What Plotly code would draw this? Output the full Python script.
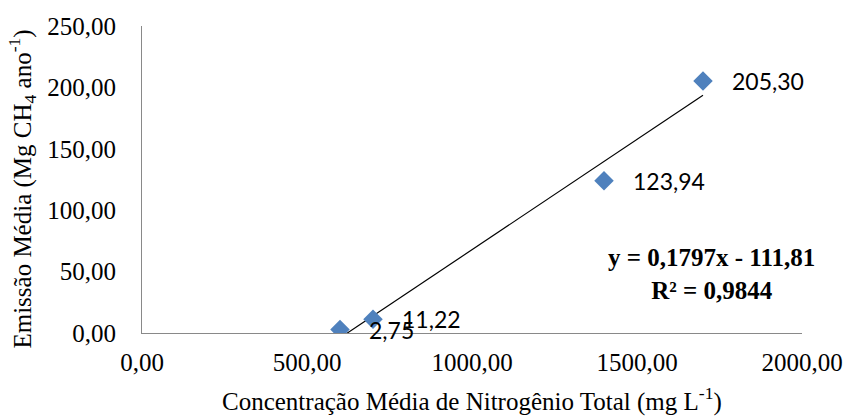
import plotly.graph_objects as go

# Mean total nitrogen concentration (mg/L) vs mean CH4 emission (Mg/yr)
nitrogen = [600, 700, 1400, 1700]
emission = [2.75, 11.22, 123.94, 205.30]
point_labels = ["2,75", "11,22", "123,94", "205,30"]

x_ticks = [0, 500, 1000, 1500, 2000]
x_tick_text = ["0,00", "500,00", "1000,00", "1500,00", "2000,00"]
y_ticks = [0, 50, 100, 150, 200, 250]
y_tick_text = ["0,00", "50,00", "100,00", "150,00", "200,00", "250,00"]

# Linear trendline (least squares)
n = len(nitrogen)
mx = sum(nitrogen) / n
my = sum(emission) / n
sxy = sum((a - mx) * (b - my) for a, b in zip(nitrogen, emission))
sxx = sum((a - mx) ** 2 for a in nitrogen)
slope = sxy / sxx
intercept = my - slope * mx
trend_x = [min(nitrogen), max(nitrogen)]
trend_y = [slope * v + intercept for v in trend_x]

serif = "Liberation Serif, Times New Roman, serif"
sans = "Lato, Carlito, Calibri, sans-serif"

fig = go.Figure()
fig.add_trace(go.Scatter(
    x=trend_x, y=trend_y, mode="lines",
    line=dict(color="black", width=1.2),
    hoverinfo="skip", showlegend=False,
))
fig.add_trace(go.Scatter(
    x=nitrogen, y=emission, mode="markers",
    marker=dict(symbol="diamond", size=15, color="#4F81BD"),
    showlegend=False,
))

# Data labels to the right of each point
annotations = [
    dict(
        text=lab, x=xv, y=yv, xref="x", yref="y",
        xanchor="left", yanchor="middle", xshift=27, showarrow=False,
        font=dict(family=sans, size=23, color="black"),
    )
    for xv, yv, lab in zip(nitrogen, emission, point_labels)
]

annotations += [
    dict(
        text="Concentração Média de Nitrogênio Total (mg L<sup>-1</sup>)",
        xref="paper", yref="paper", x=0.5, y=-0.215,
        xanchor="center", yanchor="middle", showarrow=False,
        font=dict(family=serif, size=25, color="black"),
    ),
    dict(
        text="Emissão Média (Mg CH<sub>4</sub> ano<sup>-1</sup>)",
        xref="paper", yref="paper", x=-0.182, y=0.47,
        xanchor="center", yanchor="middle", showarrow=False,
        textangle=-90,
        font=dict(family=serif, size=25, color="black"),
    ),
    dict(
        text="<b>y = 0,1797x - 111,81</b><br><b>R² = 0,9844</b>",
        x=1725, y=48, xref="x", yref="y",
        xanchor="center", yanchor="middle", showarrow=False,
        align="center",
        font=dict(family=serif, size=25, color="black"),
    ),
]

fig.update_layout(
    width=855, height=416,
    margin=dict(l=142, r=45, t=26, b=83),
    paper_bgcolor="white", plot_bgcolor="white",
    xaxis=dict(
        range=[0, 2000], tickvals=x_ticks, ticktext=x_tick_text,
        showgrid=False, zeroline=False, showline=True,
        linecolor="#898989", linewidth=1,
        ticks="outside", ticklen=7, tickcolor="rgba(0,0,0,0)",
        tickfont=dict(family=serif, size=25, color="black"),
    ),
    yaxis=dict(
        range=[0, 250], tickvals=y_ticks, ticktext=y_tick_text,
        showgrid=False, zeroline=False, showline=True,
        linecolor="#898989", linewidth=1,
        ticks="outside", ticklen=20, tickcolor="rgba(0,0,0,0)",
        tickfont=dict(family=serif, size=25, color="black"),
    ),
    annotations=annotations,
)

fig.write_html("out.html")
